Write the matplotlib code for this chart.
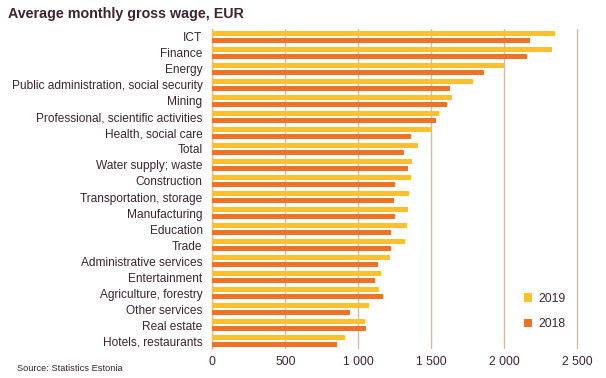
import matplotlib.pyplot as plt
import numpy as np

plt.rcParams["font.family"] = ["Liberation Sans", "DejaVu Sans"]

TEXT = "#3d2433"
GRID = "#d8b9a3"
C2019 = "#fdc02f"
C2018 = "#ef7327"

categories = [
    "ICT", "Finance", "Energy", "Public administration, social security",
    "Mining", "Professional, scientific activities", "Health, social care",
    "Total", "Water supply; waste", "Construction", "Transportation, storage",
    "Manufacturing", "Education", "Trade", "Administrative services",
    "Entertainment", "Agriculture, forestry", "Other services",
    "Real estate", "Hotels, restaurants",
]
wage_2019 = [2346, 2326, 1997, 1784, 1641, 1552, 1497, 1408, 1367, 1359,
             1345, 1340, 1331, 1320, 1217, 1155, 1142, 1073, 1046, 909]
wage_2018 = [2175, 2154, 1860, 1627, 1606, 1531, 1360, 1312, 1339, 1251,
             1245, 1251, 1224, 1224, 1135, 1114, 1169, 943, 1053, 854]
xticks = [0, 500, 1000, 1500, 2000, 2500]

fig = plt.figure(figsize=(6.06, 3.78), dpi=100)
ax = fig.add_axes([0.3503, 0.0767, 0.6264, 0.8466])

y = np.arange(len(categories))
h = 0.33
ax.barh(y - 0.21, wage_2019, height=h, color=C2019, label="2019", zorder=3)
ax.barh(y + 0.21, wage_2018, height=h, color=C2018, label="2018", zorder=3)

ax.set_ylim(len(categories) - 0.5, -0.5)
ax.set_xlim(0, 2600)
ax.set_yticks(y)
ax.set_yticklabels(categories, fontsize=8.55, color=TEXT)
ax.set_xticks(xticks)
ax.set_xticklabels([f"{v:,}".replace(",", " ") for v in xticks],
                   fontsize=8.7, color=TEXT)
ax.tick_params(axis="both", length=0)
ax.tick_params(axis="y", pad=7)
ax.tick_params(axis="x", pad=5)

for s in ["top", "right", "bottom"]:
    ax.spines[s].set_visible(False)
ax.spines["left"].set_color(GRID)
ax.spines["left"].set_linewidth(1)
ax.xaxis.grid(True, color=GRID, linewidth=1, zorder=0)
ax.set_axisbelow(True)

ax.legend(loc="upper left", bbox_to_anchor=(0.792, 0.21), frameon=False,
          fontsize=8.7, handlelength=0.7, handleheight=0.7,
          handletextpad=0.5, labelspacing=1.1, labelcolor=TEXT)

fig.text(0.013, 0.962, "Average monthly gross wage, EUR", fontsize=10.3,
         fontweight="bold", color=TEXT, va="center")
fig.text(0.028, 0.026, "Source: Statistics Estonia", fontsize=6.7,
         color=TEXT, va="center")

fig.savefig("out.png", dpi=100)
